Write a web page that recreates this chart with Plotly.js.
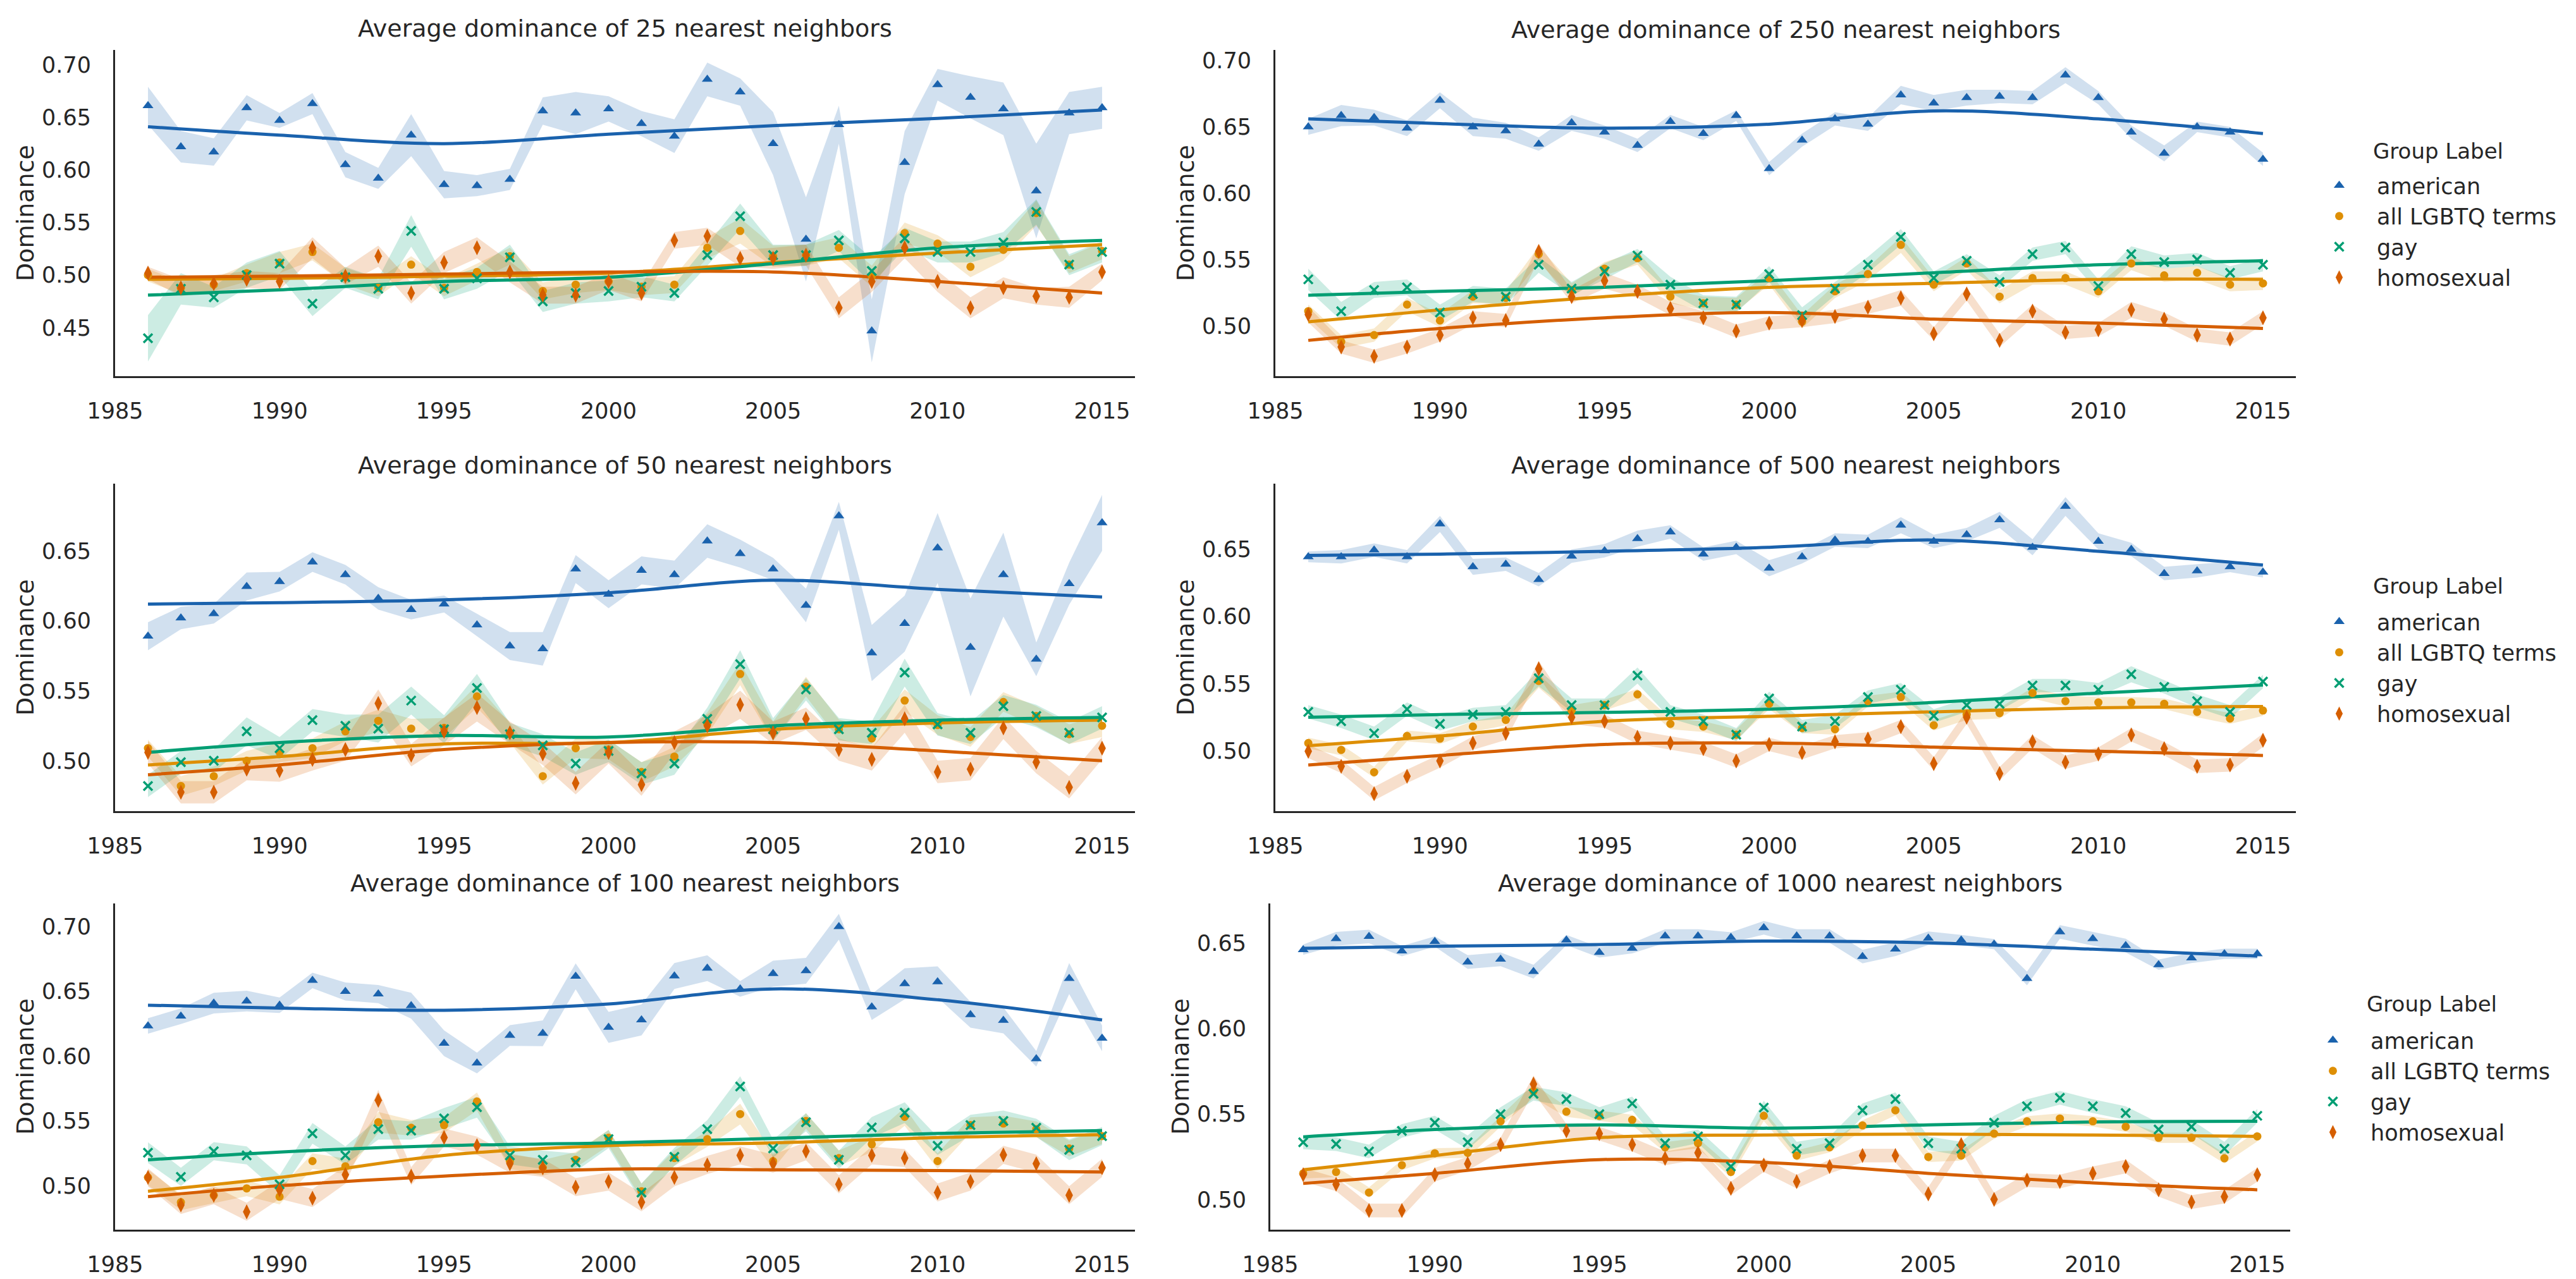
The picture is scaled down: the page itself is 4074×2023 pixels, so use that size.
<!DOCTYPE html>
<html><head><meta charset="utf-8">
<script src="https://cdn.plot.ly/plotly-3.0.1.min.js"></script>
<style>html,body{margin:0;padding:0;background:#fff}</style>
</head><body><div id="chart" style="width:4074px;height:2023px"></div>
<script>
const years = [1986,1987,1988,1989,1990,1991,1992,1993,1994,1995,1996,1997,1998,1999,2000,2001,2002,2003,2004,2005,2006,2007,2008,2009,2010,2011,2012,2013,2014,2015];
const smoothYears = [1986,1990,1995,2000,2005,2010,2015];
const groupLabels = ['american','all LGBTQ terms','gay','homosexual'];
const xTicks = [1985,1990,1995,2000,2005,2010,2015];

// ---- 25 nearest neighbors ----
const am25 = [0.661,0.622,0.617,0.659,0.647,0.663,0.605,0.592,0.633,0.586,0.585,0.591,0.656,0.654,0.658,0.644,0.632,0.686,0.674,0.625,0.534,0.643,0.447,0.607,0.681,0.669,0.658,0.580,0.654,0.659];
const lg25 = [0.500,0.488,0.491,0.502,0.512,0.522,0.499,0.488,0.510,0.488,0.503,0.518,0.485,0.491,0.494,0.489,0.491,0.526,0.542,0.518,0.519,0.526,0.499,0.540,0.530,0.508,0.524,0.559,0.510,0.523];
const gay25 = [0.440,0.487,0.479,0.500,0.511,0.473,0.498,0.487,0.542,0.487,0.497,0.517,0.475,0.483,0.485,0.489,0.483,0.519,0.556,0.519,0.519,0.533,0.504,0.535,0.522,0.522,0.531,0.560,0.510,0.522];
const ho25 = [0.502,0.488,0.492,0.496,0.494,0.526,0.499,0.518,0.483,0.512,0.526,0.503,0.481,0.481,0.494,0.483,0.533,0.537,0.516,0.516,0.519,0.469,0.494,0.526,0.494,0.469,0.488,0.480,0.479,0.503];
const am25Ci = [0.018,0.015,0.013,0.012,0.007,0.010,0.012,0.010,0.020,0.013,0.010,0.010,0.013,0.020,0.012,0.012,0.016,0.016,0.013,0.030,0.040,0.018,0.030,0.030,0.015,0.020,0.025,0.045,0.020,0.020];
const lg25Ci = [0.006,0.006,0.006,0.008,0.010,0.008,0.008,0.008,0.008,0.008,0.008,0.008,0.008,0.008,0.008,0.008,0.008,0.010,0.012,0.010,0.010,0.010,0.010,0.010,0.008,0.010,0.010,0.012,0.008,0.008];
const gay25Ci = [0.022,0.015,0.010,0.012,0.012,0.012,0.010,0.010,0.015,0.010,0.010,0.012,0.010,0.010,0.010,0.010,0.008,0.010,0.012,0.010,0.010,0.010,0.012,0.010,0.010,0.010,0.010,0.012,0.010,0.010];
const ho25Ci = [0.006,0.008,0.008,0.008,0.008,0.010,0.008,0.010,0.010,0.010,0.010,0.010,0.008,0.008,0.008,0.008,0.008,0.008,0.008,0.010,0.010,0.010,0.010,0.010,0.010,0.010,0.010,0.008,0.010,0.008];
const am25Fit = [0.641,0.633,0.625,0.634,0.642,0.649,0.657];
const lg25Fit = [0.496,0.497,0.499,0.502,0.512,0.521,0.529];
const gay25Fit = [0.481,0.486,0.494,0.498,0.511,0.526,0.533];
const ho25Fit = [0.498,0.499,0.501,0.503,0.503,0.494,0.483];

// ---- 250 nearest neighbors ----
const am250 = [0.650,0.6585,0.657,0.649,0.670,0.650,0.647,0.637,0.653,0.646,0.636,0.654,0.645,0.6585,0.6185,0.640,0.656,0.652,0.674,0.668,0.672,0.673,0.672,0.689,0.672,0.646,0.630,0.650,0.646,0.6255];
const lg250 = [0.511,0.488,0.493,0.516,0.504,0.522,0.521,0.554,0.527,0.543,0.551,0.522,0.517,0.516,0.536,0.503,0.526,0.539,0.561,0.531,0.547,0.522,0.536,0.536,0.526,0.547,0.538,0.540,0.531,0.532];
const gay250 = [0.535,0.511,0.527,0.529,0.510,0.524,0.522,0.546,0.528,0.541,0.553,0.531,0.517,0.516,0.539,0.508,0.528,0.546,0.567,0.536,0.549,0.533,0.554,0.559,0.530,0.554,0.548,0.550,0.540,0.546];
const ho250 = [0.5085,0.484,0.477,0.484,0.493,0.506,0.504,0.556,0.522,0.534,0.526,0.513,0.506,0.496,0.502,0.504,0.507,0.514,0.521,0.494,0.524,0.489,0.511,0.495,0.497,0.512,0.505,0.493,0.490,0.506];
const am250Ci = [0.006,0.008,0.006,0.006,0.006,0.007,0.006,0.005,0.006,0.005,0.005,0.005,0.005,0.004,0.005,0.005,0.005,0.005,0.007,0.006,0.006,0.005,0.005,0.006,0.005,0.005,0.006,0.004,0.004,0.005];
const lg250Ci = [0.005,0.005,0.005,0.005,0.005,0.005,0.005,0.006,0.005,0.005,0.005,0.005,0.005,0.005,0.005,0.005,0.005,0.005,0.006,0.005,0.005,0.005,0.005,0.005,0.005,0.005,0.005,0.005,0.005,0.005];
const gay250Ci = [0.008,0.007,0.006,0.006,0.006,0.006,0.006,0.006,0.005,0.006,0.005,0.006,0.006,0.006,0.006,0.006,0.005,0.006,0.006,0.005,0.005,0.005,0.005,0.005,0.005,0.006,0.005,0.005,0.005,0.005];
const ho250Ci = [0.006,0.005,0.005,0.005,0.005,0.005,0.005,0.006,0.005,0.006,0.005,0.005,0.005,0.005,0.005,0.005,0.005,0.005,0.006,0.005,0.005,0.005,0.005,0.005,0.005,0.006,0.005,0.005,0.005,0.005];
const am250Fit = [0.656,0.6525,0.649,0.652,0.662,0.656,0.645];
const lg250Fit = [0.503,0.512,0.522,0.529,0.532,0.535,0.535];
const gay250Fit = [0.523,0.526,0.529,0.534,0.540,0.546,0.549];
const ho250Fit = [0.489,0.498,0.506,0.510,0.505,0.502,0.498];

// ---- 50 nearest neighbors ----
const am50 = [0.589,0.602,0.605,0.6245,0.628,0.642,0.633,0.616,0.608,0.612,0.597,0.582,0.580,0.637,0.619,0.636,0.633,0.657,0.648,0.637,0.611,0.675,0.577,0.598,0.652,0.581,0.633,0.5725,0.6265,0.670];
const lg50 = [0.509,0.482,0.489,0.500,0.506,0.509,0.521,0.5285,0.523,0.5235,0.546,0.520,0.489,0.509,0.508,0.492,0.503,0.5265,0.562,0.521,0.553,0.5225,0.516,0.543,0.5255,0.517,0.542,0.532,0.519,0.525];
const gay50 = [0.482,0.499,0.500,0.521,0.509,0.529,0.525,0.523,0.543,0.5225,0.552,0.519,0.511,0.498,0.507,0.491,0.498,0.530,0.569,0.5225,0.551,0.5225,0.520,0.563,0.526,0.520,0.539,0.532,0.520,0.531];
const ho50 = [0.506,0.4775,0.4775,0.494,0.493,0.501,0.508,0.541,0.504,0.521,0.538,0.520,0.505,0.484,0.506,0.483,0.513,0.525,0.540,0.520,0.530,0.508,0.501,0.530,0.492,0.494,0.5235,0.499,0.481,0.509];
const am50Ci = [0.010,0.008,0.007,0.010,0.007,0.007,0.007,0.008,0.007,0.006,0.008,0.010,0.012,0.010,0.010,0.010,0.010,0.012,0.010,0.008,0.012,0.010,0.020,0.020,0.025,0.035,0.030,0.012,0.015,0.020];
const lg50Ci = [0.006,0.007,0.007,0.007,0.007,0.007,0.007,0.008,0.007,0.007,0.008,0.007,0.006,0.007,0.007,0.007,0.007,0.008,0.008,0.007,0.007,0.007,0.007,0.008,0.007,0.007,0.007,0.007,0.007,0.008];
const gay50Ci = [0.008,0.008,0.008,0.010,0.008,0.008,0.008,0.010,0.010,0.010,0.010,0.008,0.008,0.008,0.008,0.008,0.008,0.008,0.010,0.008,0.008,0.008,0.008,0.010,0.008,0.008,0.008,0.008,0.008,0.008];
const ho50Ci = [0.008,0.008,0.008,0.008,0.008,0.008,0.008,0.010,0.008,0.010,0.010,0.008,0.008,0.008,0.008,0.008,0.008,0.008,0.010,0.008,0.008,0.008,0.008,0.010,0.008,0.008,0.008,0.008,0.008,0.008];
const am50Fit = [0.612,0.613,0.615,0.620,0.629,0.6225,0.617];
const lg50Fit = [0.497,0.503,0.512,0.513,0.5225,0.527,0.529];
const gay50Fit = [0.506,0.513,0.518,0.517,0.525,0.529,0.531];
const ho50Fit = [0.490,0.497,0.508,0.513,0.513,0.507,0.500];

// ---- 500 nearest neighbors ----
const am500 = [0.6445,0.6445,0.6495,0.6445,0.669,0.637,0.639,0.6275,0.645,0.649,0.658,0.663,0.6465,0.6515,0.636,0.6445,0.657,0.656,0.668,0.656,0.661,0.672,0.6516,0.682,0.656,0.650,0.632,0.634,0.637,0.633];
const lg500 = [0.5057,0.5006,0.484,0.511,0.509,0.518,0.523,0.552,0.530,0.534,0.542,0.520,0.518,0.512,0.535,0.517,0.516,0.537,0.540,0.519,0.527,0.528,0.543,0.537,0.536,0.536,0.535,0.529,0.524,0.530];
const gay500 = [0.529,0.522,0.513,0.531,0.520,0.527,0.529,0.554,0.534,0.534,0.556,0.529,0.522,0.512,0.539,0.518,0.522,0.540,0.5455,0.526,0.534,0.535,0.5486,0.5486,0.5455,0.557,0.5476,0.537,0.529,0.5516];
const ho500 = [0.4996,0.4884,0.468,0.481,0.4924,0.5057,0.513,0.561,0.525,0.522,0.510,0.5057,0.5016,0.4924,0.5047,0.4986,0.5067,0.5088,0.518,0.4904,0.525,0.483,0.5067,0.4914,0.4976,0.5118,0.5016,0.4884,0.4894,0.5078];
const am500Ci = [0.004,0.005,0.005,0.005,0.006,0.006,0.005,0.005,0.005,0.005,0.006,0.005,0.005,0.005,0.006,0.005,0.005,0.005,0.006,0.005,0.005,0.006,0.006,0.007,0.006,0.005,0.005,0.005,0.004,0.004];
const lg500Ci = [0.004,0.004,0.004,0.004,0.004,0.004,0.004,0.005,0.004,0.004,0.004,0.004,0.004,0.004,0.004,0.004,0.004,0.004,0.004,0.004,0.004,0.004,0.004,0.004,0.004,0.004,0.004,0.004,0.004,0.004];
const gay500Ci = [0.005,0.005,0.005,0.005,0.005,0.005,0.005,0.006,0.005,0.005,0.006,0.005,0.005,0.005,0.005,0.005,0.005,0.005,0.005,0.005,0.005,0.005,0.005,0.005,0.005,0.006,0.005,0.005,0.005,0.005];
const ho500Ci = [0.005,0.005,0.005,0.005,0.005,0.005,0.005,0.006,0.005,0.005,0.005,0.005,0.005,0.005,0.005,0.005,0.005,0.005,0.005,0.005,0.005,0.005,0.005,0.005,0.005,0.005,0.005,0.005,0.005,0.005];
const am500Fit = [0.6455,0.6465,0.6486,0.6516,0.657,0.6486,0.6384];
const lg500Fit = [0.5037,0.511,0.522,0.5257,0.529,0.532,0.533];
const gay500Fit = [0.525,0.527,0.5286,0.531,0.536,0.543,0.549];
const ho500Fit = [0.4894,0.4965,0.5047,0.5057,0.5027,0.4996,0.4965];

// ---- 100 nearest neighbors ----
const am100 = [0.6234,0.6309,0.641,0.6426,0.6394,0.6585,0.650,0.648,0.639,0.610,0.5947,0.616,0.6177,0.6617,0.6223,0.628,0.662,0.668,0.652,0.6638,0.666,0.700,0.638,0.656,0.6574,0.632,0.6277,0.598,0.660,0.6138];
const lg100 = [0.5064,0.4872,0.4926,0.4979,0.4915,0.519,0.515,0.549,0.5447,0.5468,0.565,0.519,0.5138,0.520,0.537,0.4957,0.5213,0.536,0.5553,0.519,0.550,0.5213,0.532,0.5532,0.519,0.5468,0.548,0.5436,0.5287,0.5383];
const gay100 = [0.5255,0.5068,0.5266,0.5234,0.501,0.5404,0.5234,0.5436,0.5426,0.552,0.5606,0.5234,0.520,0.518,0.536,0.4947,0.5223,0.5436,0.5766,0.5287,0.549,0.520,0.545,0.5564,0.5308,0.5468,0.550,0.5447,0.5277,0.5383];
const ho100 = [0.5064,0.4851,0.4926,0.4798,0.4968,0.4904,0.5085,0.566,0.5074,0.5372,0.5309,0.517,0.5138,0.4989,0.5032,0.4872,0.5064,0.516,0.5234,0.517,0.5266,0.501,0.5234,0.5213,0.4947,0.5032,0.5238,0.517,0.4926,0.5138];
const am100Ci = [0.006,0.006,0.008,0.008,0.006,0.006,0.007,0.007,0.010,0.010,0.008,0.008,0.010,0.010,0.012,0.012,0.010,0.010,0.006,0.010,0.010,0.010,0.010,0.012,0.012,0.010,0.010,0.006,0.012,0.010];
const lg100Ci = [0.006,0.006,0.006,0.006,0.006,0.006,0.006,0.008,0.006,0.006,0.007,0.006,0.006,0.006,0.006,0.006,0.006,0.006,0.008,0.006,0.006,0.006,0.006,0.007,0.006,0.006,0.006,0.006,0.006,0.006];
const gay100Ci = [0.008,0.007,0.007,0.007,0.007,0.008,0.007,0.008,0.007,0.008,0.008,0.007,0.007,0.007,0.007,0.007,0.007,0.007,0.008,0.007,0.007,0.007,0.008,0.008,0.007,0.008,0.008,0.007,0.008,0.007];
const ho100Ci = [0.007,0.007,0.007,0.007,0.007,0.007,0.007,0.008,0.007,0.007,0.007,0.007,0.007,0.007,0.007,0.007,0.007,0.007,0.007,0.007,0.007,0.007,0.007,0.007,0.007,0.007,0.007,0.007,0.007,0.007];
const am100Fit = [0.6394,0.6372,0.6355,0.6404,0.652,0.6436,0.628];
const lg100Fit = [0.4957,0.5064,0.5234,0.5309,0.533,0.5372,0.5394];
const gay100Fit = [0.520,0.526,0.5309,0.533,0.5366,0.5404,0.5426];
const ho100Fit = [0.4915,0.500,0.5074,0.5128,0.5123,0.5117,0.5106];

// ---- 1000 nearest neighbors ----
const am1000 = [0.646,0.6524,0.6537,0.6452,0.6508,0.6388,0.6404,0.6332,0.6516,0.6444,0.6468,0.654,0.654,0.6532,0.6588,0.654,0.654,0.642,0.6463,0.6527,0.6516,0.6492,0.6292,0.6564,0.6524,0.6484,0.6372,0.6412,0.6436,0.6436];
const lg1000 = [0.5154,0.5162,0.5042,0.5202,0.5271,0.5274,0.5458,0.5635,0.5514,0.549,0.5466,0.5306,0.533,0.5162,0.549,0.5258,0.5306,0.5434,0.5522,0.525,0.5258,0.5386,0.5458,0.5474,0.5458,0.5426,0.5362,0.5362,0.5242,0.537];
const gay1000 = [0.5335,0.5325,0.5282,0.5402,0.545,0.5335,0.550,0.5619,0.5587,0.550,0.5562,0.533,0.537,0.5194,0.5538,0.5298,0.533,0.5522,0.5587,0.533,0.5298,0.545,0.5546,0.5595,0.5546,0.5506,0.541,0.5426,0.5298,0.549];
const ho1000 = [0.5146,0.509,0.4937,0.4937,0.5146,0.521,0.5322,0.5675,0.5402,0.5386,0.5322,0.5242,0.5274,0.5066,0.5202,0.5106,0.5194,0.5258,0.5258,0.5034,0.5322,0.5002,0.5114,0.5106,0.5154,0.5194,0.5058,0.4986,0.5018,0.5146];
const am1000Ci = [0.003,0.004,0.004,0.003,0.003,0.004,0.004,0.004,0.003,0.003,0.003,0.004,0.004,0.003,0.004,0.004,0.004,0.004,0.004,0.004,0.003,0.003,0.004,0.004,0.004,0.004,0.003,0.003,0.003,0.003];
const lg1000Ci = [0.003,0.003,0.003,0.003,0.003,0.003,0.003,0.004,0.003,0.003,0.003,0.003,0.003,0.003,0.003,0.003,0.003,0.003,0.003,0.003,0.003,0.003,0.003,0.003,0.003,0.003,0.003,0.003,0.003,0.003];
const gay1000Ci = [0.004,0.004,0.004,0.004,0.004,0.004,0.004,0.004,0.004,0.004,0.004,0.004,0.004,0.004,0.004,0.004,0.004,0.004,0.004,0.004,0.004,0.004,0.004,0.004,0.004,0.004,0.004,0.004,0.004,0.004];
const ho1000Ci = [0.004,0.004,0.004,0.004,0.004,0.004,0.004,0.005,0.004,0.004,0.004,0.004,0.004,0.004,0.004,0.004,0.004,0.004,0.004,0.004,0.004,0.004,0.004,0.004,0.004,0.004,0.004,0.004,0.004,0.004];
const am1000Fit = [0.6468,0.648,0.649,0.651,0.650,0.6463,0.6423];
const lg1000Fit = [0.5175,0.5258,0.5362,0.5378,0.5383,0.5378,0.537];
const gay1000Fit = [0.5367,0.541,0.5437,0.5418,0.5437,0.5454,0.5458];
const ho1000Fit = [0.5095,0.5154,0.5234,0.5218,0.5154,0.5098,0.5058];

const panelTitles = ['Average dominance of 25 nearest neighbors','Average dominance of 250 nearest neighbors',
  'Average dominance of 50 nearest neighbors','Average dominance of 500 nearest neighbors',
  'Average dominance of 100 nearest neighbors','Average dominance of 1000 nearest neighbors'];

// ---- build ----
const panels = [
  {means:[am25,lg25,gay25,ho25], ci:[am25Ci,lg25Ci,gay25Ci,ho25Ci], fit:[am25Fit,lg25Fit,gay25Fit,ho25Fit]},
  {means:[am250,lg250,gay250,ho250], ci:[am250Ci,lg250Ci,gay250Ci,ho250Ci], fit:[am250Fit,lg250Fit,gay250Fit,ho250Fit]},
  {means:[am50,lg50,gay50,ho50], ci:[am50Ci,lg50Ci,gay50Ci,ho50Ci], fit:[am50Fit,lg50Fit,gay50Fit,ho50Fit]},
  {means:[am500,lg500,gay500,ho500], ci:[am500Ci,lg500Ci,gay500Ci,ho500Ci], fit:[am500Fit,lg500Fit,gay500Fit,ho500Fit]},
  {means:[am100,lg100,gay100,ho100], ci:[am100Ci,lg100Ci,gay100Ci,ho100Ci], fit:[am100Fit,lg100Fit,gay100Fit,ho100Fit]},
  {means:[am1000,lg1000,gay1000,ho1000], ci:[am1000Ci,lg1000Ci,gay1000Ci,ho1000Ci], fit:[am1000Fit,lg1000Fit,gay1000Fit,ho1000Fit]}
];

const W = 4074, H = 2023;
const colors = ['#1a62ad','#de8f05','#029e73','#d55e00'];
const fills = ['rgba(26,98,173,0.2)','rgba(222,143,5,0.2)','rgba(2,158,115,0.2)','rgba(213,94,0,0.2)'];
const symbols = ['triangle-up','circle','x-thin','diamond-tall'];
const msizes = [15,13,14,17];
const legendIds = [null,'legend',null,'legend2',null,'legend3'];

// pixel geometry [left,right,top,bottom]
const geo = [
  [182,1795,79,595],[2017,3631,79,595],
  [182,1795,765,1283],[2017,3631,765,1283],
  [182,1795,1429,1945],[2009,3622,1429,1945]
];
const yRanges = [[0.404,0.714],[0.462,0.708],[0.464,0.698],[0.455,0.699],[0.466,0.718],[0.4825,0.673]];
const titleY = [45,47,736,736,1397,1397];

const traces = [];
panels.forEach((p,pi)=>{
  const xa = pi===0?'x':'x'+(pi+1), ya = pi===0?'y':'y'+(pi+1);
  for (let s=0;s<4;s++){
    const up = p.means[s].map((v,i)=>v+p.ci[s][i]);
    const lo = p.means[s].map((v,i)=>v-p.ci[s][i]);
    traces.push({type:'scatter',mode:'lines',x:years.concat(years.slice().reverse()),
      y:up.concat(lo.slice().reverse()),fill:'toself',fillcolor:fills[s],line:{width:0,color:fills[s]},
      hoverinfo:'skip',showlegend:false,xaxis:xa,yaxis:ya});
  }
  for (let s=0;s<4;s++){
    traces.push({type:'scatter',mode:'lines',x:smoothYears,y:p.fit[s],
      line:{color:colors[s],width:5,shape:'spline',smoothing:1},showlegend:false,xaxis:xa,yaxis:ya});
  }
  for (let s=0;s<4;s++){
    const t = {type:'scatter',mode:'markers',x:years,y:p.means[s],name:groupLabels[s],
      marker:{symbol:symbols[s],size:msizes[s],color:colors[s],line:{width:s===2?3.5:0,color:colors[s]}},
      xaxis:xa,yaxis:ya,showlegend:false};
    if (legendIds[pi]){ t.showlegend=true; t.legend=legendIds[pi]; t.legendgroup=legendIds[pi]+s; }
    traces.push(t);
  }
});

const txt = '#262626';
const layout = {width:W,height:H,autosize:false,margin:{l:0,r:0,t:0,b:0},
  paper_bgcolor:'#ffffff',plot_bgcolor:'#ffffff',
  font:{family:'DejaVu Sans, sans-serif',color:txt,size:35},
  annotations:[]};

geo.forEach((g,pi)=>{
  const xk = pi===0?'xaxis':'xaxis'+(pi+1), yk = pi===0?'yaxis':'yaxis'+(pi+1);
  const ya = pi===0?'y':'y'+(pi+1), xa = pi===0?'x':'x'+(pi+1);
  layout[xk] = {domain:[g[0]/W,g[1]/W],anchor:ya,range:[1985,2016],tickvals:xTicks,
    showline:true,linecolor:txt,linewidth:3,showgrid:false,zeroline:false,
    ticks:'outside',ticklen:22,tickcolor:'rgba(0,0,0,0)',tickfont:{size:35,color:txt},automargin:false};
  layout[yk] = {domain:[1-g[3]/H,1-g[2]/H],anchor:xa,range:yRanges[pi],dtick:0.05,tick0:0,tickformat:'.2f',
    showline:true,linecolor:txt,linewidth:3,showgrid:false,zeroline:false,
    ticks:'outside',ticklen:28,tickcolor:'rgba(0,0,0,0)',tickfont:{size:35,color:txt},automargin:false,
    title:{text:'Dominance',font:{size:38,color:txt},standoff:1}};
  layout.annotations.push({text:panelTitles[pi],xref:'paper',yref:'paper',
    x:(g[0]+g[1])/2/W,y:1-titleY[pi]/H,xanchor:'center',yanchor:'middle',showarrow:false,
    font:{size:38,color:txt}});
});

const legTop = [264,954,1616];
const legTitle = [239,927,1588];
const legX = [3640,3640,3630];
['legend','legend2','legend3'].forEach((lk,i)=>{
  layout[lk] = {x:legX[i]/W,y:1-legTop[i]/H,xanchor:'left',yanchor:'top',bgcolor:'rgba(0,0,0,0)',
    font:{size:35,color:txt},itemwidth:109,tracegroupgap:0,borderwidth:0};
  layout.annotations.push({text:'Group Label',xref:'paper',yref:'paper',x:(legX[i]+111)/W,y:1-legTitle[i]/H,
    xanchor:'left',yanchor:'middle',showarrow:false,font:{size:34,color:txt}});
});

Plotly.newPlot('chart',traces,layout,{staticPlot:true});
</script></body></html>
